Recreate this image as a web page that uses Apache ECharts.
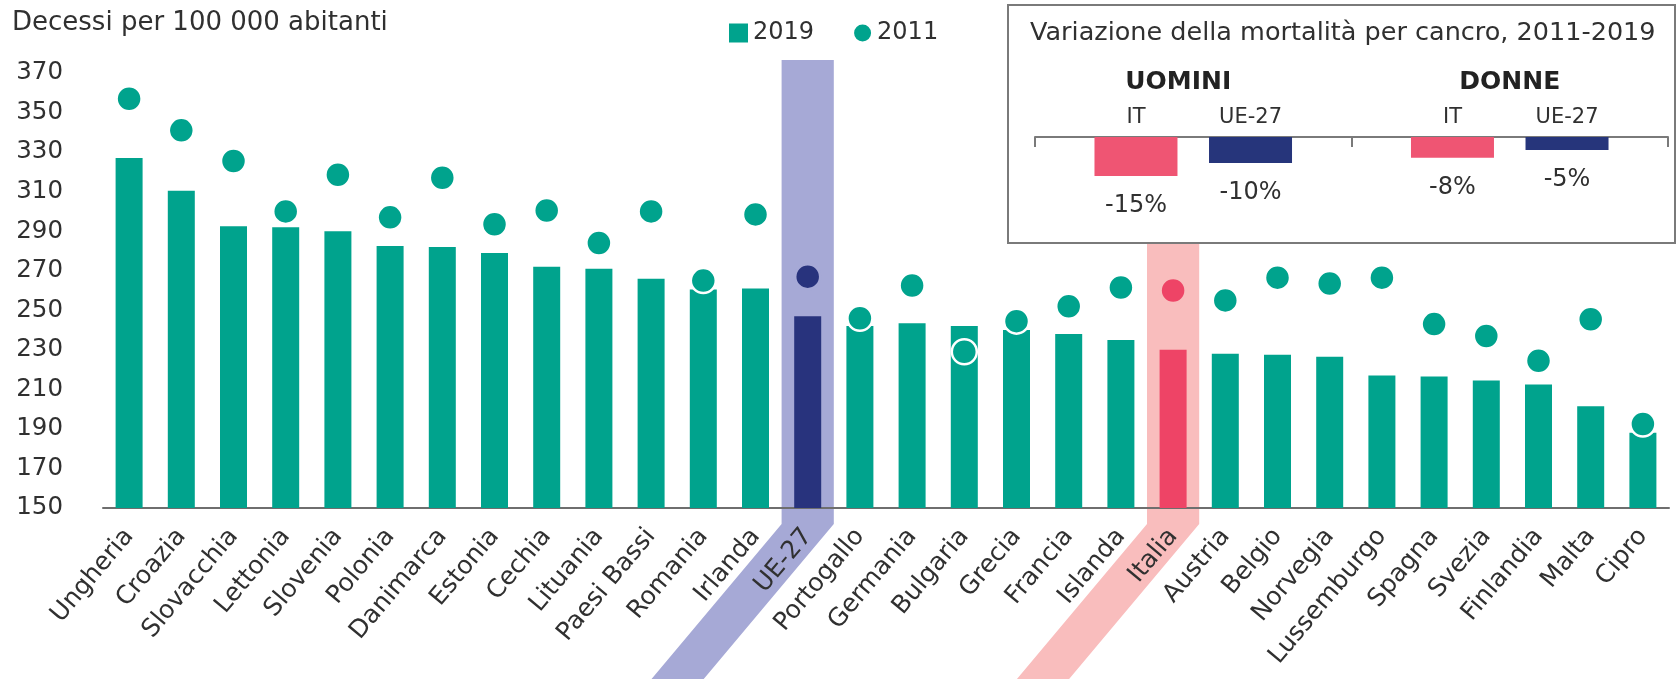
<!DOCTYPE html>
<html><head><meta charset="utf-8">
<script src="https://cdn.jsdelivr.net/npm/echarts@6/dist/echarts.min.js"></script>
<style>html,body{margin:0;padding:0;background:#fff}#c{width:1678px;height:679px}</style>
</head><body><div id="c"></div>
<script>
// ---------- data ----------
const countries = ['Ungheria','Croazia','Slovacchia','Lettonia','Slovenia','Polonia','Danimarca','Estonia','Cechia','Lituania','Paesi Bassi','Romania','Irlanda','UE-27','Portogallo','Germania','Bulgaria','Grecia','Francia','Islanda','Italia','Austria','Belgio','Norvegia','Lussemburgo','Spagna','Svezia','Finlandia','Malta','Cipro'];
const values2019 = [327,310.5,292.5,292,290,282.5,282,279,272,271,266,260.5,261,247,242,243.5,242,240,238,235,230,228,227.5,226.5,217,216.5,214.5,212.5,201.5,188];
const values2011 = [357,341,325.5,300,318.5,297,317,293.5,300.5,284,300,265,298.5,267,246,262.5,229,244.5,252,261.5,260,255,266.5,263.5,266.5,243,237,224.5,245.5,192.5];
const yMin = 150, yMax = 370, yInterval = 20;
const insetGroups = ['UOMINI','DONNE'];
const insetNames = ['IT','UE-27'];
const insetIT = [-15,-8];
const insetUE = [-10,-5];
const insetTitle = 'Variazione della mortalità per cancro, 2011-2019';
const mainTitle = 'Decessi per 100 000 abitanti';

// ---------- style ----------
const FONT = "'DejaVu Sans', sans-serif";
const TEAL = '#00a38d', NAVY = '#28337d', PINK = '#ee4466';
const INSET_PINK = '#ef5573', INSET_NAVY = '#26357b';
const BAND_EU = '#a6a9d6', BAND_IT = '#f9bdbd';
const TXT = '#303030';
const colorOf = n => n === 'UE-27' ? NAVY : (n === 'Italia' ? PINK : TEAL);
const ringOf = n => n === 'UE-27' ? BAND_EU : (n === 'Italia' ? BAND_IT : '#ffffff');

const chart = echarts.init(document.getElementById('c'), null, {renderer: 'canvas'});

const option = {
  animation: false,
  textStyle: {fontFamily: FONT},
  legend: {
    data: [{name: '2019', icon: 'rect'}, {name: '2011', icon: 'circle'}],
    left: 724, top: 16, itemWidth: 19, itemHeight: 19, itemGap: 38,
    textStyle: {fontSize: 24, color: TXT, fontFamily: FONT}
  },
  grid: [
    {left: 103, right: 9, top: 73, bottom: 171, containLabel: false},
    {left: 1035, width: 633, top: 137, height: 39, containLabel: false}
  ],
  xAxis: [
    {
      type: 'category', data: countries, gridIndex: 0,
      axisLine: {lineStyle: {color: '#6e6e6e', width: 2}},
      axisTick: {show: false},
      axisLabel: {rotate: 50, interval: 0, fontSize: 25, margin: 24, color: TXT, fontFamily: FONT}
    },
    {
      type: 'category', data: insetGroups, gridIndex: 1, position: 'top',
      axisLine: {onZero: false, lineStyle: {color: '#7a7a7a', width: 2}},
      axisTick: {show: true, inside: true, length: 10, lineStyle: {color: '#7a7a7a', width: 2}},
      axisLabel: {
        margin: 42,
        formatter: v => v === insetGroups[0] ? '{a|' + v + '}' : '{b|' + v + '}',
        rich: {
          a: {fontSize: 25, fontWeight: 'bold', color: '#222', fontFamily: FONT, padding: [0, 30, 0, 0]},
          b: {fontSize: 25, fontWeight: 'bold', color: '#222', fontFamily: FONT}
        }
      }
    }
  ],
  yAxis: [
    {
      type: 'value', min: yMin, max: yMax, interval: yInterval, gridIndex: 0,
      axisLine: {show: false}, axisTick: {show: false}, splitLine: {show: false},
      axisLabel: {fontSize: 24.5, color: TXT, margin: 40, fontFamily: FONT}
    },
    {
      type: 'value', min: -15, max: 0, gridIndex: 1, show: false
    }
  ],
  series: [
    {
      name: '2019', type: 'bar', xAxisIndex: 0, yAxisIndex: 0, barWidth: 27, z: 2,
      itemStyle: {color: TEAL},
      data: values2019.map((v, i) => ({value: v, itemStyle: {color: colorOf(countries[i])}}))
    },
    {
      name: '2011', type: 'scatter', xAxisIndex: 0, yAxisIndex: 0, symbol: 'circle', symbolSize: 25, z: 3,
      itemStyle: {color: TEAL, borderColor: '#ffffff', borderWidth: 2.5, opacity: 1},
      data: values2011.map((v, i) => ({value: v, itemStyle: {color: colorOf(countries[i]), borderColor: ringOf(countries[i])}}))
    },
    // inset: name labels (zero-height bars, first in their stack)
    {
      name: 'lab-IT', type: 'bar', xAxisIndex: 1, yAxisIndex: 1, stack: 'it', barWidth: 83, barGap: '38%',
      itemStyle: {color: 'rgba(0,0,0,0)'}, data: insetIT.map(() => 0),
      label: {show: true, position: 'top', distance: 9, formatter: () => insetNames[0], fontSize: 21, color: TXT, fontFamily: FONT}
    },
    {
      name: 'IT', type: 'bar', xAxisIndex: 1, yAxisIndex: 1, stack: 'it', barWidth: 83, barGap: '38%',
      itemStyle: {color: INSET_PINK}, data: insetIT,
      label: {show: true, position: 'bottom', distance: 18, formatter: p => p.value + '%', fontSize: 24, color: TXT, fontFamily: FONT}
    },
    {
      name: 'lab-UE', type: 'bar', xAxisIndex: 1, yAxisIndex: 1, stack: 'ue', barWidth: 83, barGap: '38%',
      itemStyle: {color: 'rgba(0,0,0,0)'}, data: insetUE.map(() => 0),
      label: {show: true, position: 'top', distance: 9, formatter: () => insetNames[1], fontSize: 21, color: TXT, fontFamily: FONT}
    },
    {
      name: 'UE-27', type: 'bar', xAxisIndex: 1, yAxisIndex: 1, stack: 'ue', barWidth: 83, barGap: '38%',
      itemStyle: {color: INSET_NAVY}, data: insetUE,
      label: {show: true, position: 'bottom', distance: 18, formatter: p => p.value + '%', fontSize: 24, color: TXT, fontFamily: FONT}
    }
  ]
};
chart.setOption(option);

// ---------- decorations computed from the axes ----------
const H = 679;
const px = c => chart.convertToPixel({xAxisIndex: 0}, c);
const bandW = px(countries[1]) - px(countries[0]);
const axisY = chart.convertToPixel({yAxisIndex: 0}, yMin);
const topY = chart.convertToPixel({yAxisIndex: 0}, yMax);
const boxTop = 5, boxBottom = 243, boxLeft = 1008, boxRight = 1675;
function band(name, top, color, id) {
  const cx = px(name), hw = bandW / 2;
  const bend = axisY + 16;
  const d = (H - bend) * 0.85;
  return {
    type: 'polygon', id: id, z: -10, silent: true,
    shape: {points: [[cx - hw, top], [cx + hw, top], [cx + hw, bend], [cx + hw - d, H + 2], [cx - hw - d, H + 2], [cx - hw, bend]]},
    style: {fill: color}
  };
}
chart.setOption({
  graphic: [
    band('UE-27', topY - 13, BAND_EU, 'bandEU'),
    band('Italia', boxBottom, BAND_IT, 'bandIT'),
    {type: 'rect', id: 'box', z: 1, silent: true,
     shape: {x: boxLeft, y: boxTop, width: boxRight - boxLeft, height: boxBottom - boxTop},
     style: {fill: 'rgba(255,255,255,0)', stroke: '#7a7a7a', lineWidth: 2}},
    {type: 'text', id: 'insetTitle', z: 5, silent: true,
     style: {text: insetTitle, x: 1030, y: 33, fill: TXT, font: "25.5px 'DejaVu Sans', sans-serif", textVerticalAlign: 'middle', textAlign: 'left'}},
    {type: 'text', id: 'mainTitle', z: 5, silent: true,
     style: {text: mainTitle, x: 12, y: 23, fill: TXT, font: "26px 'DejaVu Sans', sans-serif", textVerticalAlign: 'middle', textAlign: 'left'}}
  ]
});
</script>
</body></html>
